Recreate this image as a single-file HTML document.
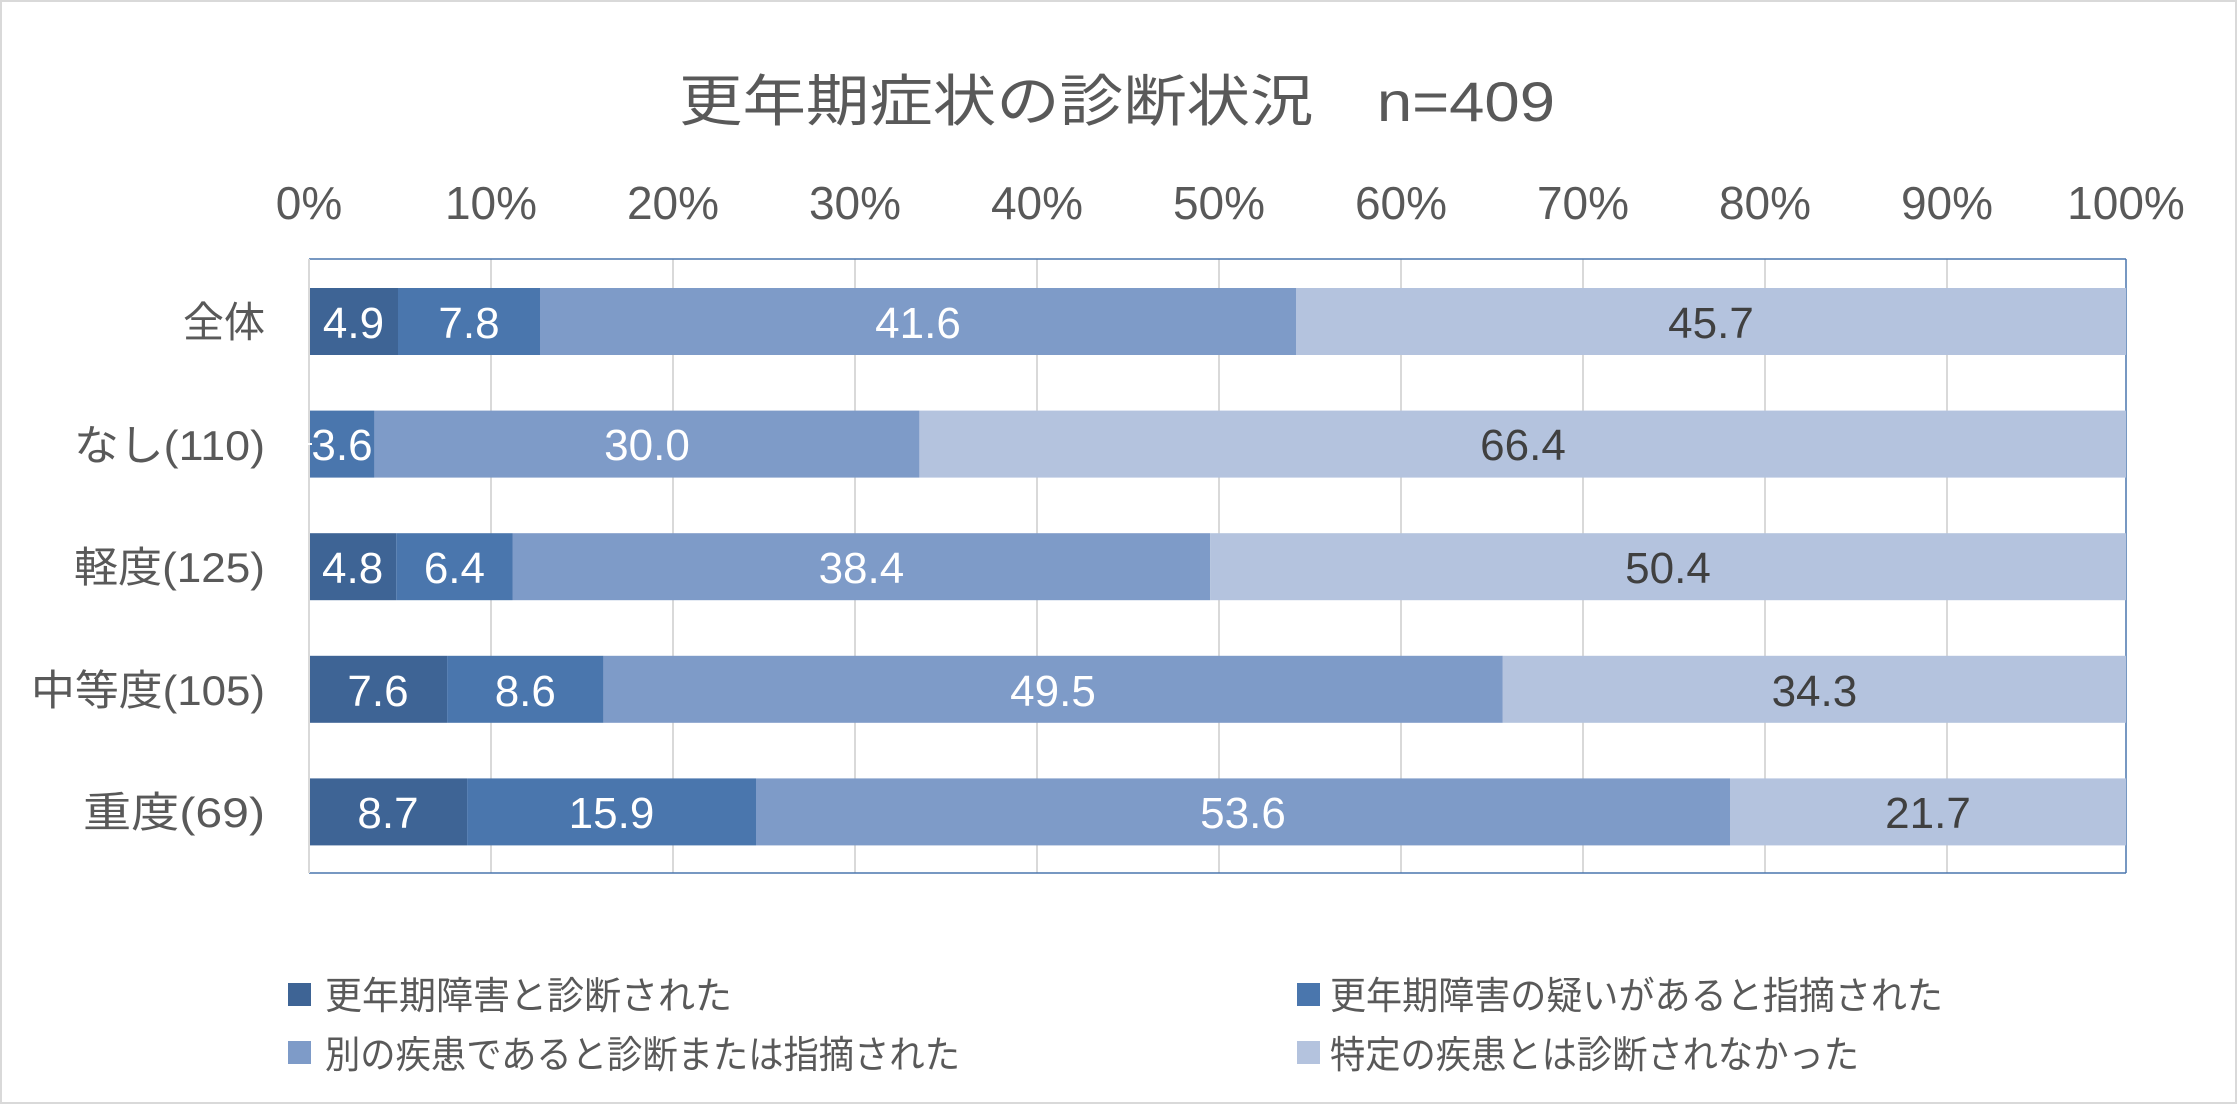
<!DOCTYPE html>
<html><head><meta charset="utf-8"><style>
html,body{margin:0;padding:0;background:#fff}
svg{display:block}
text{font-family:"Liberation Sans","Noto Sans CJK JP",sans-serif}
</style></head><body>
<svg width="2237" height="1104" viewBox="0 0 2237 1104" xmlns="http://www.w3.org/2000/svg">
<rect x="1" y="1" width="2235" height="1102" fill="#fff" stroke="#d9d9d9" stroke-width="2"/>
<text x="1117" y="121" font-size="56" fill="#595959" text-anchor="middle" textLength="876" lengthAdjust="spacingAndGlyphs">更年期症状の診断状況　n=409</text>
<g font-size="46" fill="#595959" text-anchor="middle">
<text x="309" y="219">0%</text><text x="491" y="219">10%</text><text x="673" y="219">20%</text>
<text x="855" y="219">30%</text><text x="1037" y="219">40%</text><text x="1219" y="219">50%</text>
<text x="1401" y="219">60%</text><text x="1583" y="219">70%</text><text x="1765" y="219">80%</text>
<text x="1947" y="219">90%</text><text x="2126" y="219">100%</text>
</g>
<g stroke="#d9d9d9" stroke-width="2">
<line x1="309" y1="259" x2="309" y2="873"/><line x1="491" y1="259" x2="491" y2="873"/><line x1="673" y1="259" x2="673" y2="873"/>
<line x1="855" y1="259" x2="855" y2="873"/><line x1="1037" y1="259" x2="1037" y2="873"/><line x1="1219" y1="259" x2="1219" y2="873"/>
<line x1="1401" y1="259" x2="1401" y2="873"/><line x1="1583" y1="259" x2="1583" y2="873"/><line x1="1765" y1="259" x2="1765" y2="873"/>
<line x1="1947" y1="259" x2="1947" y2="873"/>
</g>
<line x1="309" y1="259" x2="2126" y2="259" stroke="#4a76ad" stroke-width="1.5"/>
<line x1="309" y1="873" x2="2126" y2="873" stroke="#4a76ad" stroke-width="1.5"/>
<line x1="2126" y1="259" x2="2126" y2="873" stroke="#4a76ad" stroke-width="1.5"/>
<g>
<rect x="309" y="288" width="89" height="67" fill="#3e6495"/>
<rect x="398" y="288" width="142" height="67" fill="#4a76ad"/>
<rect x="540" y="288" width="756" height="67" fill="#7e9bc8"/>
<rect x="1296" y="288" width="830" height="67" fill="#b4c3de"/>
<rect x="309" y="410.6" width="65.4" height="67" fill="#4a76ad"/>
<rect x="374.4" y="410.6" width="545" height="67" fill="#7e9bc8"/>
<rect x="919.4" y="410.6" width="1206.6" height="67" fill="#b4c3de"/>
<rect x="309" y="533.2" width="87.2" height="67" fill="#3e6495"/>
<rect x="396.2" y="533.2" width="116.3" height="67" fill="#4a76ad"/>
<rect x="512.5" y="533.2" width="697.7" height="67" fill="#7e9bc8"/>
<rect x="1210.2" y="533.2" width="915.8" height="67" fill="#b4c3de"/>
<rect x="309" y="655.8" width="138.1" height="67" fill="#3e6495"/>
<rect x="447.1" y="655.8" width="156.3" height="67" fill="#4a76ad"/>
<rect x="603.4" y="655.8" width="899.4" height="67" fill="#7e9bc8"/>
<rect x="1502.8" y="655.8" width="623.2" height="67" fill="#b4c3de"/>
<rect x="309" y="778.4" width="158.1" height="67" fill="#3e6495"/>
<rect x="467.1" y="778.4" width="288.9" height="67" fill="#4a76ad"/>
<rect x="756" y="778.4" width="974" height="67" fill="#7e9bc8"/>
<rect x="1730" y="778.4" width="396" height="67" fill="#b4c3de"/>
</g>
<line x1="309" y1="259" x2="309" y2="873" stroke="#d9d9d9" stroke-width="2"/>
<g font-size="44" text-anchor="middle" fill="#fff">
<text x="353.5" y="338">4.9</text><text x="469" y="338">7.8</text><text x="918" y="338">41.6</text>
<text x="1711" y="338" fill="#404040">45.7</text>
<line x1="304" y1="444" x2="312" y2="444" stroke="#fff" stroke-width="2"/>
<text x="342" y="460">3.6</text><text x="647" y="460">30.0</text>
<text x="1523" y="460" fill="#404040">66.4</text>
<text x="352.6" y="583">4.8</text><text x="454.4" y="583">6.4</text><text x="861.4" y="583">38.4</text>
<text x="1668" y="583" fill="#404040">50.4</text>
<text x="378" y="706">7.6</text><text x="525.3" y="706">8.6</text><text x="1053" y="706">49.5</text>
<text x="1814.4" y="706" fill="#404040">34.3</text>
<text x="388" y="828">8.7</text><text x="611.5" y="828">15.9</text><text x="1243" y="828">53.6</text>
<text x="1928" y="828" fill="#404040">21.7</text>
</g>
<g font-size="42" fill="#595959" text-anchor="end">
<text x="265" y="337" textLength="82" lengthAdjust="spacingAndGlyphs">全体</text>
<text x="265" y="460" textLength="191" lengthAdjust="spacingAndGlyphs">なし(110)</text>
<text x="265" y="582" textLength="191" lengthAdjust="spacingAndGlyphs">軽度(125)</text>
<text x="265" y="705" textLength="234" lengthAdjust="spacingAndGlyphs">中等度(105)</text>
<text x="265" y="827" textLength="182" lengthAdjust="spacingAndGlyphs">重度(69)</text>
</g>
<g font-size="38" fill="#595959">
<rect x="288" y="983" width="23" height="23" fill="#3e6495"/>
<text x="325" y="1009" textLength="407" lengthAdjust="spacingAndGlyphs">更年期障害と診断された</text>
<rect x="288" y="1041" width="23" height="23" fill="#7e9bc8"/>
<text x="325" y="1068" textLength="635" lengthAdjust="spacingAndGlyphs">別の疾患であると診断または指摘された</text>
<rect x="1297" y="983" width="23" height="23" fill="#4a76ad"/>
<text x="1330" y="1009" textLength="613" lengthAdjust="spacingAndGlyphs">更年期障害の疑いがあると指摘された</text>
<rect x="1297" y="1041" width="23" height="23" fill="#b4c3de"/>
<text x="1330" y="1068" textLength="529" lengthAdjust="spacingAndGlyphs">特定の疾患とは診断されなかった</text>
</g>
</svg>
</body></html>
